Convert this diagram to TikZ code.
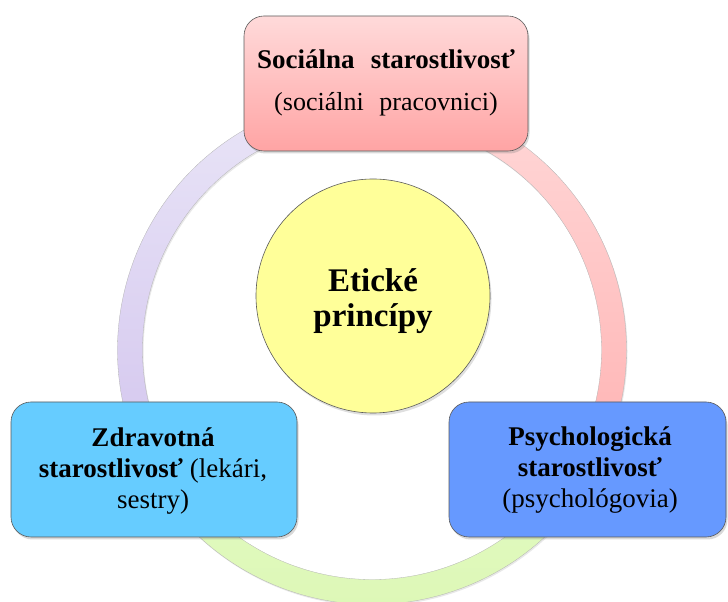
\documentclass[tikz,border=0pt]{standalone}
\usepackage{fontspec}
\setmainfont{Liberation Serif}
\usetikzlibrary{shadows}

\definecolor{pinkTop}{HTML}{FFDADA}
\definecolor{pinkBot}{HTML}{FFA4A4}
\definecolor{ringPinkTop}{HTML}{FFD8D8}
\definecolor{ringPinkBot}{HTML}{FFB2B2}
\definecolor{ringGreenTop}{HTML}{E6FACB}
\definecolor{ringGreenBot}{HTML}{DCF8B4}
\definecolor{ringPurpleTop}{HTML}{E9E5F7}
\definecolor{ringPurpleBot}{HTML}{D3C5EE}
\definecolor{skyBlue}{HTML}{66CCFF}
\definecolor{royalBlue}{HTML}{6699FF}
\definecolor{paleYellow}{HTML}{FFFF99}
\definecolor{edgeGray}{HTML}{5A5A5A}

\tikzset{
  softshadow/.style={drop shadow={opacity=0.3, shadow xshift=1.5pt, shadow yshift=-2.5pt}},
  ringseg/.style={draw=black!30, line width=0.3pt,
    drop shadow={opacity=0.18, shadow xshift=1pt, shadow yshift=-1.5pt}},
  roundbox/.style={draw=edgeGray, line width=0.6pt, rounded corners=20pt,
    minimum height=135pt, inner sep=0pt, softshadow},
  boxtext/.style={align=center, inner sep=0pt, text=black,
    font=\fontsize{27}{31}\selectfont},
}

\begin{document}
\begin{tikzpicture}[x=1pt,y=1pt]
\useasboundingbox (0,0) rectangle (728,602);

% centre of the ring
\coordinate (ring) at (372,252);

% three ring segments between the boxes
\path[ringseg, top color=ringPinkTop, bottom color=ringPinkBot]
  (ring) ++(90:254.5) arc[start angle=90, end angle=-30, radius=254.5]
  -- ++(150:25) arc[start angle=-30, end angle=90, radius=229.5] -- cycle;
\path[ringseg, top color=ringGreenTop, bottom color=ringGreenBot]
  (ring) ++(-30:254.5) arc[start angle=-30, end angle=-150, radius=254.5]
  -- ++(30:25) arc[start angle=-150, end angle=-30, radius=229.5] -- cycle;
\path[ringseg, top color=ringPurpleTop, bottom color=ringPurpleBot]
  (ring) ++(210:254.5) arc[start angle=210, end angle=90, radius=254.5]
  -- ++(270:25) arc[start angle=90, end angle=210, radius=229.5] -- cycle;

% central circle
\node[circle, draw=edgeGray, line width=0.6pt, fill=paleYellow,
  minimum size=234pt, inner sep=0pt,
  drop shadow={opacity=0.25, shadow xshift=1.5pt, shadow yshift=-2.5pt}]
  (ethics) at (373,306) {};
\node[align=center, inner sep=0pt, font=\fontsize{33}{35}\selectfont\bfseries]
  (ethicstxt) at (373,300.5) {Etické\\princípy};

% social care
\node[roundbox, minimum width=284pt, top color=pinkTop, bottom color=pinkBot]
  (social) at (386,518.5) {};
\node[boxtext, font=\fontsize{26}{42}\selectfont]
  (socialtxt) at (386,519.5)
  {{\fontsize{27}{42}\selectfont\textbf{Sociálna\hspace{0.35em} starostlivosť}}\\(sociálni\hspace{0.35em} pracovnici)};

% health care
\node[roundbox, minimum width=286pt, fill=skyBlue]
  (health) at (154,132.5) {};
\node[boxtext] (healthtxt) at (153,131)
  {\textbf{Zdravotná}\\\textbf{starostlivosť} (lekári,\\sestry)};

% psychological care
\node[roundbox, minimum width=277pt, fill=royalBlue]
  (psych) at (587.5,132.5) {};
\node[boxtext] (psychtxt) at (590,132)
  {\textbf{Psychologická}\\\textbf{starostlivosť}\\(psychológovia)};
\end{tikzpicture}
\end{document}
